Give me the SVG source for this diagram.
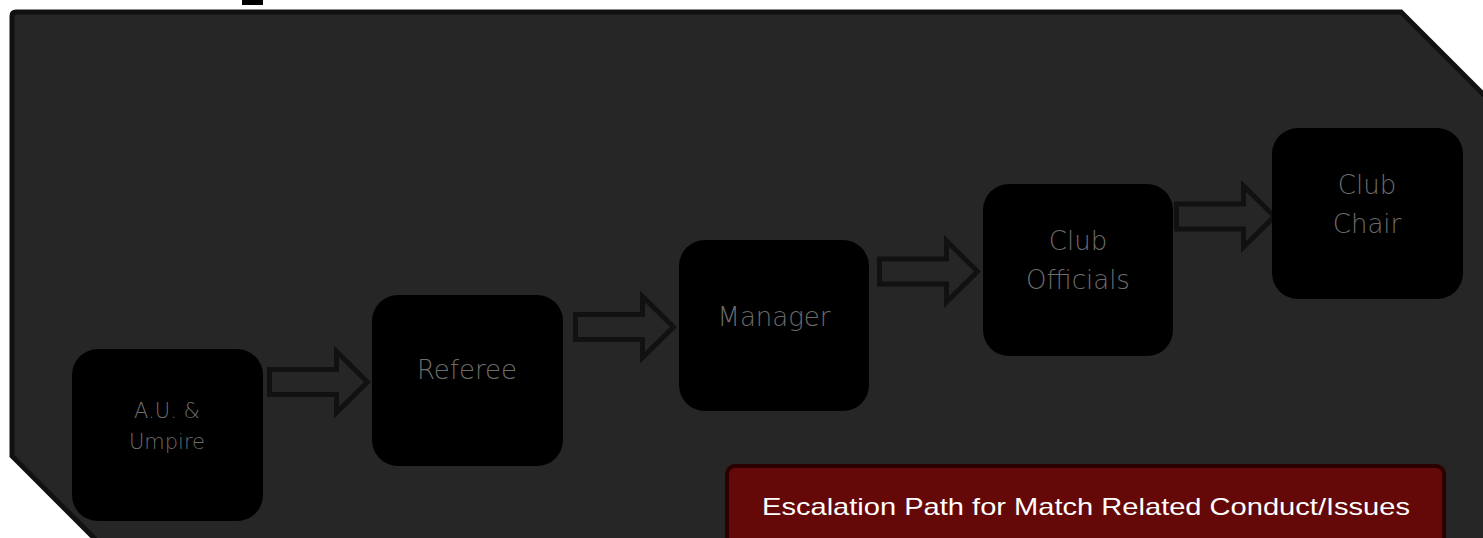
<svg xmlns="http://www.w3.org/2000/svg" width="1483" height="538" viewBox="0 0 1483 538">
<style>
.node rect{fill:#000;}
.node text{fill:#6c6c6c;font-family:"DejaVu Sans","Liberation Sans",sans-serif;font-weight:200;text-anchor:middle;font-size:26px;}
.node text.sm{font-size:21px;}
.arrow{fill:#262626;stroke:#111;stroke-width:5;stroke-linejoin:miter;}
</style>
<defs>
<path id="blk" d="M0,-12.5 H67 V-30.5 L98,0 L67,30.5 V12.5 H0 Z"/>
</defs>
<rect x="0" y="0" width="1483" height="538" fill="#fff"/>
<rect x="242" y="0" width="21" height="5" fill="#000"/>
<g id="background">
<path d="M12,16 Q12,12 16,12 H1401 L1500,111 V570 H126 L12,456 Z" fill="#262626" stroke="#111" stroke-width="5"/>
</g>
<g id="connectors">
<use href="#blk" class="arrow" x="269.5" y="382"/>
<use href="#blk" class="arrow" x="575.5" y="327"/>
<use href="#blk" class="arrow" x="879.5" y="271.5"/>
<use href="#blk" class="arrow" x="1176.5" y="216.5"/>
</g>
<g id="n1" class="node">
<rect x="72" y="349" width="191" height="172" rx="26"/>
<text class="sm" x="167" y="418">A.U. &amp;</text>
<text class="sm" x="167" y="449">Umpire</text>
</g>
<g id="n2" class="node">
<rect x="372" y="295" width="191" height="171" rx="26"/>
<text x="467" y="379">Referee</text>
</g>
<g id="n3" class="node">
<rect x="679" y="240" width="190" height="171" rx="26"/>
<text x="774" y="326">Manager</text>
</g>
<g id="n4" class="node">
<rect x="983" y="184" width="190" height="172" rx="26"/>
<text x="1078" y="250">Club</text>
<text x="1078" y="289">Officials</text>
</g>
<g id="n5" class="node">
<rect x="1272" y="128" width="191" height="171" rx="26"/>
<text x="1367" y="194">Club</text>
<text x="1367" y="233">Chair</text>
</g>
<g id="legend">
<rect x="727" y="466" width="717" height="90" rx="8" fill="#650808" stroke="#2a0000" stroke-width="4"/>
<text x="1086" y="515" font-size="24" fill="#fff" text-anchor="middle" font-family="'Liberation Sans',sans-serif" textLength="648" lengthAdjust="spacingAndGlyphs">Escalation Path for Match Related Conduct/Issues</text>
</g>
</svg>
